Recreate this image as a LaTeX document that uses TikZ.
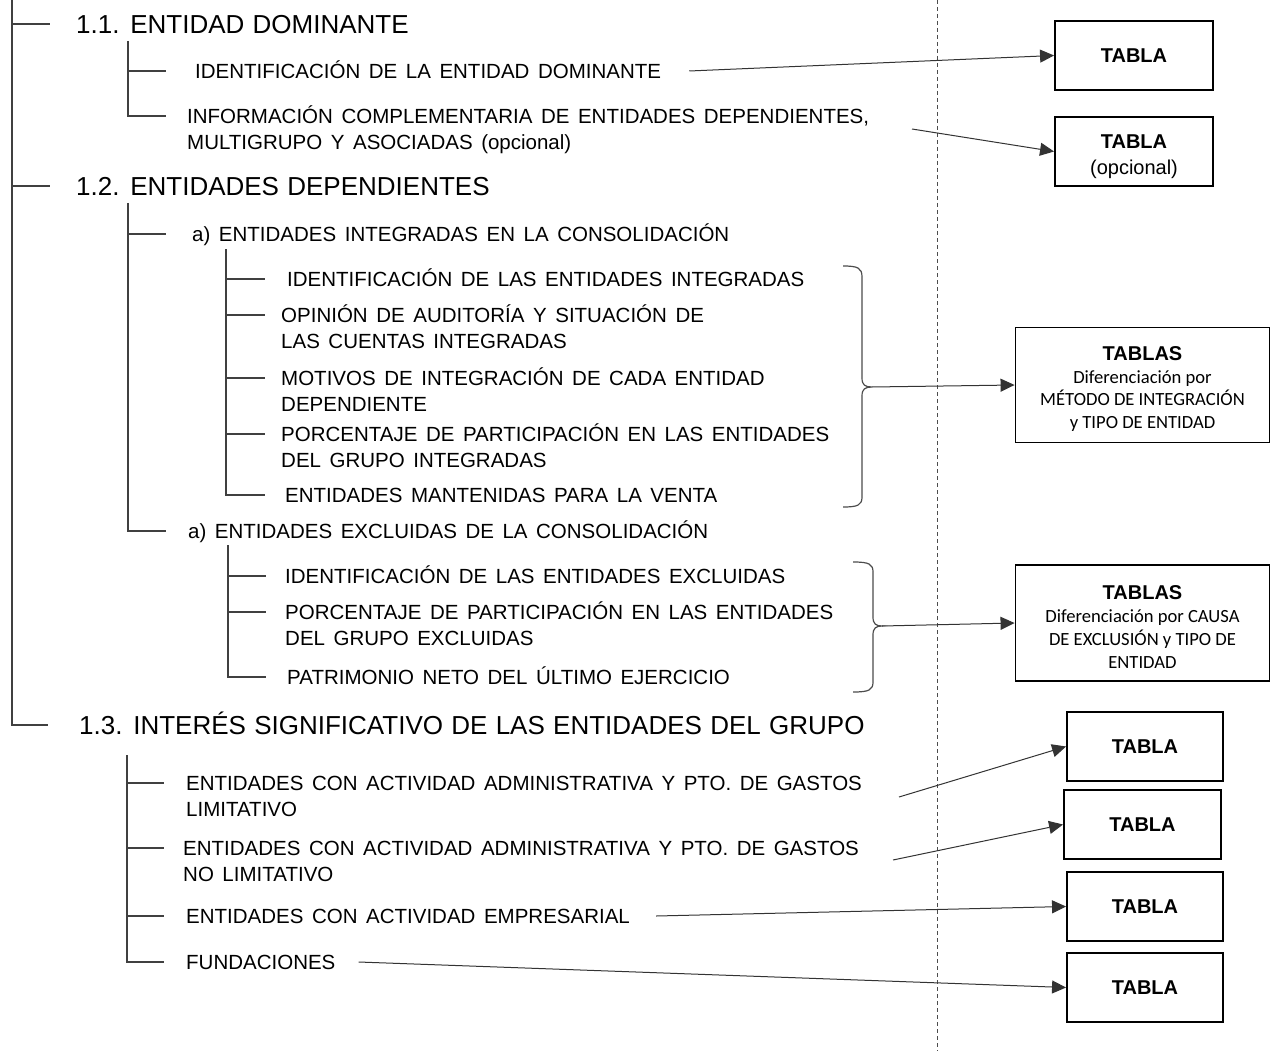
\documentclass[tikz,border=0pt]{standalone}
\usepackage{fontspec}
\setmainfont[WordSpace=1.5]{Liberation Sans}
\newfontfamily\headfont[WordSpace=1.15]{Liberation Sans}
\newfontfamily\calfont{Carlito}
\usepackage{tikz}
\usetikzlibrary{arrows.meta}
\usetikzlibrary{positioning}

\begin{document}
\begin{tikzpicture}[x=1pt,y=-1pt,
		tree/.style={draw=black!75, line width=1.1pt},
		head/.style={anchor=west, inner sep=0pt, text height=18.6pt, text depth=0pt, font=\headfont\fontsize{26}{30}\selectfont},
		item/.style={anchor=west, inner sep=0pt, text height=14.7pt, text depth=0pt, font=\fontsize{20.5}{25}\selectfont},
		tabla/.style={draw, line width=1.9pt, inner sep=0pt, minimum width=156pt, minimum height=69pt, align=center, font=\fontsize{20}{26}\selectfont\bfseries},
		tablas/.style={draw, line width=1.9pt, inner sep=0pt, minimum width=254pt, minimum height=115pt, align=center, font=\calfont\fontsize{18.6}{22.8}\selectfont},
		arr/.style={draw=black!80, line width=1pt, -{Triangle[length=14pt,width=13pt]}},
		llave/.style={draw=black!70, line width=1.2pt},
		sep/.style={draw=black!70, line width=1pt, dash pattern=on 4pt off 3pt}]
		\useasboundingbox (0,0) rectangle (1271,1051);
		\draw[sep] (937,0) -- (937,1051);

		\coordinate (t0) at (12,0);
		\node[head] (n11) at (76,24) {1.1. ENTIDAD DOMINANTE};
		\node[head] (n12) at (76,186) {1.2. ENTIDADES DEPENDIENTES};
		\node[head] (n13) at (79,725) {1.3. INTERÉS SIGNIFICATIVO DE LAS ENTIDADES DEL GRUPO};
		\draw[tree] (t0 |- n11.west) -- ++(38,0); \draw[tree] (t0 |- n12.west) -- ++(38,0);
		\draw[tree] (t0) -- (t0 |- n13.west) -- ++(36,0);

		% 1.1
		\coordinate (tA) at (128,41);
		\node[item] (idd) at (195,71) {IDENTIFICACIÓN DE LA ENTIDAD DOMINANTE};
		\node[item] (inf1) at (187,116) {INFORMACIÓN COMPLEMENTARIA DE ENTIDADES DEPENDIENTES,};
		\node[item, below right=11pt and 0pt of inf1.south west] (inf2) {MULTIGRUPO Y ASOCIADAS (opcional)};
		\draw[tree] (tA |- idd.west) -- ++(38,0);
		\draw[tree] (tA) -- (tA |- inf1.west) -- ++(38,0);

		% 1.2
		\coordinate (tB) at (128,203);
		\node[item] (int) at (192,234) {a) ENTIDADES INTEGRADAS EN LA CONSOLIDACIÓN};
		\node[item] (exc) at (188,531) {a) ENTIDADES EXCLUIDAS DE LA CONSOLIDACIÓN};
		\draw[tree] (tB |- int.west) -- ++(38,0);
		\draw[tree] (tB) -- (tB |- exc.west) -- ++(38,0);

		\coordinate (tC) at (226,249);
		\node[item] (idi) at (287,279) {IDENTIFICACIÓN DE LAS ENTIDADES INTEGRADAS};
		\node[item] (opi1) at (281,315) {OPINIÓN DE AUDITORÍA Y SITUACIÓN DE};
		\node[item, below right=11pt and 0pt of opi1.south west] (opi2) {LAS CUENTAS INTEGRADAS};
		\node[item] (mot1) at (281,378) {MOTIVOS DE INTEGRACIÓN DE CADA ENTIDAD};
		\node[item, below right=11pt and 0pt of mot1.south west] (mot2) {DEPENDIENTE};
		\node[item] (pci1) at (281,434) {PORCENTAJE DE PARTICIPACIÓN EN LAS ENTIDADES};
		\node[item, below right=11pt and 0pt of pci1.south west] (pci2) {DEL GRUPO INTEGRADAS};
		\node[item] (man) at (285,495) {ENTIDADES MANTENIDAS PARA LA VENTA};
		\draw[tree] (tC |- idi.west) -- ++(39,0); \draw[tree] (tC |- opi1.west) -- ++(39,0);
		\draw[tree] (tC |- mot1.west) -- ++(39,0); \draw[tree] (tC |- pci1.west) -- ++(39,0);
		\draw[tree] (tC) -- (tC |- man.west) -- ++(39,0);

		\coordinate (tD) at (228,545);
		\node[item] (ide) at (285,576) {IDENTIFICACIÓN DE LAS ENTIDADES EXCLUIDAS};
		\node[item] (pce1) at (285,612) {PORCENTAJE DE PARTICIPACIÓN EN LAS ENTIDADES};
		\node[item, below right=11pt and 0pt of pce1.south west] (pce2) {DEL GRUPO EXCLUIDAS};
		\node[item] (pat) at (287,677) {PATRIMONIO NETO DEL ÚLTIMO EJERCICIO};
		\draw[tree] (tD |- ide.west) -- ++(38,0); \draw[tree] (tD |- pce1.west) -- ++(38,0);
		\draw[tree] (tD) -- (tD |- pat.west) -- ++(38,0);

		% 1.3
		\coordinate (tE) at (127,755);
		\node[item] (ecl1) at (186,783) {ENTIDADES CON ACTIVIDAD ADMINISTRATIVA Y PTO. DE GASTOS};
		\node[item, below right=11pt and 0pt of ecl1.south west] (ecl2) {LIMITATIVO};
		\node[item] (ecn1) at (183,848) {ENTIDADES CON ACTIVIDAD ADMINISTRATIVA Y PTO. DE GASTOS};
		\node[item, below right=11pt and 0pt of ecn1.south west] (ecn2) {NO LIMITATIVO};
		\node[item] (ecae) at (186,916) {ENTIDADES CON ACTIVIDAD EMPRESARIAL};
		\node[item] (fun) at (186,962) {FUNDACIONES};
		\draw[tree] (tE |- ecl1.west) -- ++(37,0); \draw[tree] (tE |- ecn1.west) -- ++(37,0);
		\draw[tree] (tE |- ecae.west) -- ++(37,0);
		\draw[tree] (tE) -- (tE |- fun.west) -- ++(37,0);

		% llaves
		\draw[llave] (843,266) .. controls (858,266) and (862,268) .. (862,277) -- (862,378)
			.. controls (862,385) and (865,387) .. (872,387) .. controls (865,387) and (862,389) .. (862,396)
			-- (862,497) .. controls (862,505) and (858,507) .. (843,507);
		\coordinate (bI) at (872,387);
		\draw[llave] (853,562) .. controls (869,562) and (873,564) .. (873,572) -- (873,617)
			.. controls (873,624) and (876,626) .. (882,626) .. controls (876,626) and (873,628) .. (873,635)
			-- (873,682) .. controls (873,690) and (869,692) .. (853,692);
		\coordinate (bE) at (882,626);

		% tablas
		\node[tabla, minimum width=158pt] (tb1) at (1134,55.5) {TABLA};
		\node[tabla, minimum width=158pt] (tb2) at (1134,151.5) {\rule{0pt}{24pt}TABLA\\{\mdseries\fontsize{20}{26}\selectfont (opcional)}};
		\node[tablas] (tbI) at (1142.5,385) {{\rmfamily\bfseries\fontsize{20}{24}\selectfont\rule{0pt}{22pt}TABLAS}\\Diferenciación por\\MÉTODO DE INTEGRACIÓN\\y TIPO DE ENTIDAD};
		\node[tablas, minimum height=116pt] (tbE) at (1142.5,623) {{\rmfamily\bfseries\fontsize{20}{24}\selectfont\rule{0pt}{22pt}TABLAS}\\Diferenciación por CAUSA\\DE EXCLUSIÓN y TIPO DE\\ENTIDAD};
		\node[tabla] (tb5) at (1145,746.5) {TABLA};
		\node[tabla, minimum width=157pt] (tb6) at (1142.5,824.5) {TABLA};
		\node[tabla] (tb7) at (1145,906.5) {TABLA};
		\node[tabla] (tb8) at (1145,987.5) {TABLA};

		\coordinate (sInf) at (912,129);
		\coordinate (sL) at (899,797); \coordinate (sN) at (893,860);
		\draw[arr] ([xshift=28pt]idd.east) -- (tb1.west);
		\draw[arr] (sInf) -- (tb2.west);
		\draw[arr] (bI) -- (tbI.west); \draw[arr] (bE) -- (tbE.west);
		\draw[arr] (sL) -- (tb5.west); \draw[arr] (sN) -- (tb6.west);
		\draw[arr] ([xshift=26pt]ecae.east) -- (tb7.west);
		\draw[arr] ([xshift=23pt]fun.east) -- (tb8.west);
	\end{tikzpicture}
\end{document}
